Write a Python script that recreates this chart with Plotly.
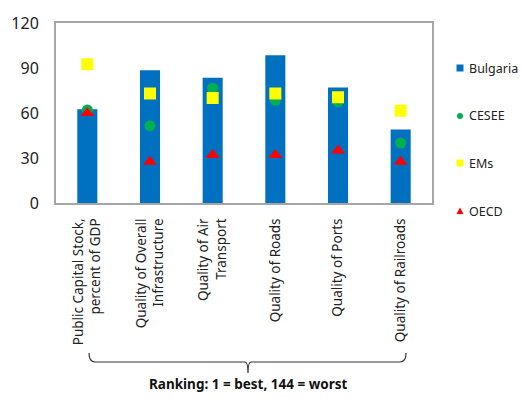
import plotly.graph_objects as go

categories = [
    "Public Capital Stock,<br>percent of GDP",
    "Quality of Overall<br>Infrastructure",
    "Quality of Air<br>Transport",
    "Quality of Roads",
    "Quality of Ports",
    "Quality of Railroads",
]
bulgaria = [62.5, 88.5, 83.5, 98.5, 77, 49]
cesee = [62, 51.5, 76.5, 68.5, 67.5, 40]
ems = [92.5, 73, 70, 73, 70.5, 61.5]
oecd = [60, 27.5, 32, 32, 35, 27.5]
y_ticks = [0, 30, 60, 90, 120]

series_names = ["Bulgaria", "CESEE", "EMs", "OECD"]
series_colors = ["#0070C0", "#00B050", "#FFFF00", "#FF0000"]

FONT = "Noto Sans"
fig = go.Figure()
fig.add_trace(go.Bar(x=categories, y=bulgaria, name="Bulgaria",
                     marker=dict(color=series_colors[0], line=dict(width=0)),
                     width=0.32))
fig.add_trace(go.Scatter(x=categories, y=cesee, name="CESEE", mode="markers",
                         marker=dict(symbol="circle", size=11, color=series_colors[1])))
fig.add_trace(go.Scatter(x=categories, y=ems, name="EMs", mode="markers",
                         marker=dict(symbol="square", size=12, color=series_colors[2])))
fig.add_trace(go.Scatter(x=categories, y=oecd, name="OECD", mode="markers",
                         marker=dict(symbol="triangle-up", size=12, color=series_colors[3])))

# pixel -> paper conversion for the plot area (56..432 x 23..203)
def px(x):
    return (x - 56) / 376

def py(y):
    return (203 - y) / 180

# brace under the category labels
xl, xr, xc = 89, 406, 248
ytop, ymid, ybot = 353, 362, 373
path = (f"M {px(xl)},{py(ytop)} Q {px(xl)},{py(ymid)} {px(xl+6)},{py(ymid)} "
        f"L {px(xc-3)},{py(ymid)} Q {px(xc)},{py(ymid)} {px(xc)},{py(ybot)} "
        f"Q {px(xc)},{py(ymid)} {px(xc+3)},{py(ymid)} "
        f"L {px(xr-6)},{py(ymid)} Q {px(xr)},{py(ymid)} {px(xr)},{py(ytop)}")
fig.add_shape(type="path", path=path, xref="paper", yref="paper",
              line=dict(color="#333333", width=1.2))

fig.add_annotation(text="<b>Ranking: 1 = best, 144 = worst</b>", xref="paper", yref="paper",
                   x=px(248), y=py(384), showarrow=False, yanchor="middle",
                   font=dict(family=FONT, size=13.5, color="#111111"))

# legend drawn at the right of the plot
leg_x = 460
leg_y = [68, 116, 163, 211]
for name, color, yy, kind in zip(series_names, series_colors, leg_y,
                                 ["rect", "circle", "rect", "tri"]):
    h = 3.5
    if kind == "rect":
        fig.add_shape(type="rect", xref="paper", yref="paper",
                      x0=px(leg_x - h), x1=px(leg_x + h), y0=py(yy + h), y1=py(yy - h),
                      fillcolor=color, line=dict(width=0))
    elif kind == "circle":
        fig.add_shape(type="circle", xref="paper", yref="paper",
                      x0=px(leg_x - 3), x1=px(leg_x + 3), y0=py(yy + 3), y1=py(yy - 3),
                      fillcolor=color, line=dict(width=0))
    else:
        tri = (f"M {px(leg_x - 3.5)},{py(yy + 3)} L {px(leg_x + 3.5)},{py(yy + 3)} "
               f"L {px(leg_x)},{py(yy - 3.5)} Z")
        fig.add_shape(type="path", path=tri, xref="paper", yref="paper",
                      fillcolor=color, line=dict(width=0))
    fig.add_annotation(text=name, xref="paper", yref="paper", x=px(leg_x + 7), y=py(yy),
                       xanchor="left", yanchor="middle", showarrow=False,
                       font=dict(family=FONT, size=12.5, color="#222222"))

fig.update_layout(
    width=523, height=398,
    margin=dict(l=56, r=91, t=23, b=195, autoexpand=False),
    paper_bgcolor="white", plot_bgcolor="white",
    font=dict(family=FONT, size=12, color="#222222"),
    showlegend=False,
    xaxis=dict(showline=True, linecolor="#A6A6A6", linewidth=2, mirror=True,
               tickangle=-90, ticks="", automargin=False, ticklabelstandoff=8,
               tickfont=dict(family=FONT, size=13.5, color="#222222"),
               showgrid=False),
    yaxis=dict(range=[0, 120], tickvals=y_ticks, showline=True, linecolor="#A6A6A6",
               linewidth=2, mirror=True, showgrid=False, zeroline=False, ticks="",
               automargin=False, ticklabelstandoff=12,
               tickfont=dict(family=FONT, size=16, color="#222222")),
)

fig.write_html("out.html")
